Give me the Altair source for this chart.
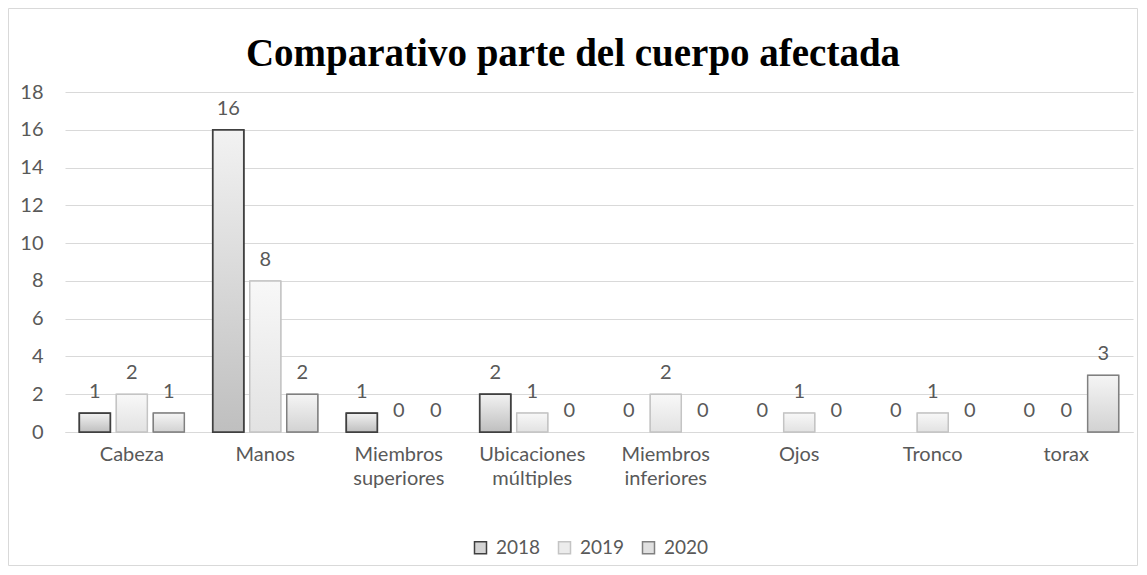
import altair as alt
import pandas as pd

categories = ["Cabeza", "Manos", "Miembros superiores", "Ubicaciones múltiples",
              "Miembros inferiores", "Ojos", "Tronco", "torax"]
years = ["2018", "2019", "2020"]
v2018 = [1, 16, 1, 2, 0, 0, 0, 0]
v2019 = [2, 8, 0, 1, 2, 1, 1, 0]
v2020 = [1, 2, 0, 0, 0, 0, 0, 3]
y_ticks = [0, 2, 4, 6, 8, 10, 12, 14, 16, 18]

rows = []
for yr, vals in zip(years, [v2018, v2019, v2020]):
    for c, v in zip(categories, vals):
        rows.append({"cat": c, "year": yr, "value": v})
df = pd.DataFrame(rows)

W, H = 1068, 340
PL, PT, PR, PB = 57, 84, 6, 135
FONT = "Lato"
FS = 20
GRAY = "#595959"

fills_flat = ["#d4d4d4", "#ececec", "#e0e0e0"]
strokes = ["#404040", "#c4c4c4", "#808080"]
grads = [("#f2f2f2", "#bfbfbf"), ("#f8f8f8", "#e2e2e2"), ("#f5f5f5", "#d2d2d2")]
stroke_w = [1.75, 1.5, 1.5]


def grad(top, bottom):
    return alt.Gradient(
        gradient="linear", x1=0, x2=0, y1=0, y2=1,
        stops=[alt.GradientStop(offset=0, color=top),
               alt.GradientStop(offset=1, color=bottom)],
    )


x_enc = alt.X(
    "cat:N", sort=categories,
    scale=alt.Scale(paddingInner=0.213, paddingOuter=0.107),
    axis=alt.Axis(title=None, labelAngle=0, labelExpr="split(datum.label, ' ')",
                  domain=True, domainColor="#d9d9d9", ticks=False, grid=False,
                  labelPadding=12, labelFont=FONT, labelFontSize=FS,
                  labelColor=GRAY, labelLineHeight=24),
)
xo_enc = alt.XOffset("year:N", scale=alt.Scale(domain=years, paddingInner=0.16, paddingOuter=0))
y_enc = alt.Y(
    "value:Q", scale=alt.Scale(domain=[0, 18]),
    axis=alt.Axis(title=None, values=y_ticks, domain=False, ticks=False,
                  gridColor="#d9d9d9", labelPadding=22, labelFont=FONT,
                  labelFontSize=FS, labelColor=GRAY),
)

base = alt.Chart(df)
nonzero = base.transform_filter(alt.datum.value > 0)

border = alt.Chart(pd.DataFrame({"a": [0]})).mark_rect(
    filled=False, stroke="#d9d9d9", strokeWidth=1
).encode(
    x=alt.value(-PL + 0.5), x2=alt.value(W + PR - 1.5),
    y=alt.value(-PT + 0.5), y2=alt.value(H + PB - 1.5),
)

leg = dict(title=None, orient="none", direction="horizontal",
           legendX=406, legendY=446, symbolType="square",
           symbolSize=144, labelFont=FONT, labelFontSize=19,
           labelColor=GRAY, labelOffset=6, columnPadding=14)

legend_bars = nonzero.mark_bar(strokeWidth=1).encode(
    x=x_enc, xOffset=xo_enc, y=y_enc,
    color=alt.Color("year:N", scale=alt.Scale(domain=years, range=fills_flat),
                    legend=alt.Legend(**leg)),
    stroke=alt.Stroke("year:N", scale=alt.Scale(domain=years, range=strokes),
                      legend=alt.Legend(**leg)),
)

layers = [border, legend_bars]
for i, yr in enumerate(years):
    layers.append(
        nonzero.transform_filter(alt.datum.year == yr).mark_bar(
            fill=grad(*grads[i]), stroke=strokes[i], strokeWidth=stroke_w[i]
        ).encode(x=x_enc, xOffset=xo_enc, y=y_enc)
    )

labels = base.mark_text(baseline="alphabetic", dy=-15, font=FONT, fontSize=FS, color=GRAY).encode(
    x=x_enc, xOffset=xo_enc, y=y_enc, text=alt.Text("value:Q")
)
layers.append(labels)

chart = alt.layer(*layers).properties(
    width=W, height=H,
    background="white",
    autosize=alt.AutoSizeParams(type="none"),
    padding={"left": PL, "top": PT, "right": PR, "bottom": PB},
    title=alt.TitleParams("Comparativo parte del cuerpo afectada", font="Liberation Serif",
                          fontSize=39, fontWeight="bold", color="black", anchor="middle",
                          baseline="alphabetic", dx=-26, offset=-97),
).configure_view(strokeWidth=0, stroke="transparent")

chart.save("out.html", embed_options={"renderer": "svg", "actions": False})
